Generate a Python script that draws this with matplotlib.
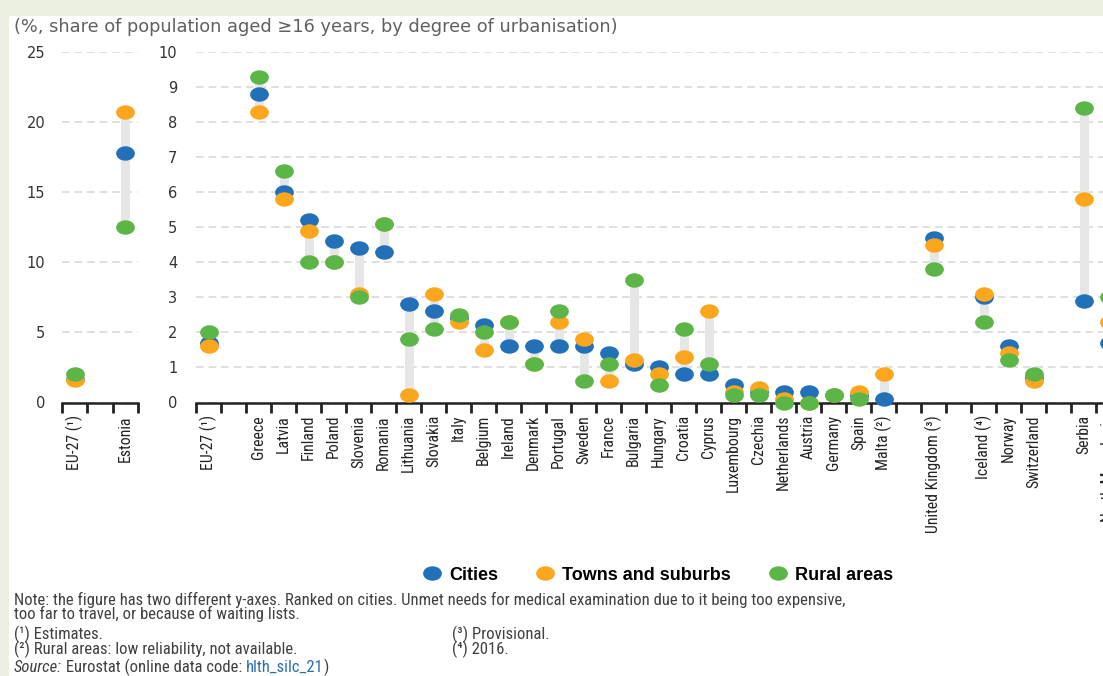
import numpy as np
import matplotlib
matplotlib.use('Agg')
import matplotlib.pyplot as plt
from matplotlib import font_manager as fm
from matplotlib.path import Path
from matplotlib.transforms import Affine2D
from matplotlib.lines import Line2D
from matplotlib.patches import Rectangle

# ---- data (% of population aged >=16, unmet needs for medical examination) ----
left_labels = ['EU-27 (¹)', '', 'Estonia']
left_cities = [1.7, np.nan, 17.8]
left_towns = [1.6, np.nan, 20.7]
left_rural = [2.0, np.nan, 12.5]

right_labels = ['EU-27 (¹)', '', 'Greece', 'Latvia', 'Finland', 'Poland', 'Slovenia',
                'Romania', 'Lithuania', 'Slovakia', 'Italy', 'Belgium', 'Ireland',
                'Denmark', 'Portugal', 'Sweden', 'France', 'Bulgaria', 'Hungary',
                'Croatia', 'Cyprus', 'Luxembourg', 'Czechia', 'Netherlands', 'Austria',
                'Germany', 'Spain', 'Malta (²)', '', 'United Kingdom (³)', '',
                'Iceland (⁴)', 'Norway', 'Switzerland', '', 'Serbia', 'North Macedonia']
right_cities = [1.7, np.nan, 8.8, 6.0, 5.2, 4.6, 4.4, 4.3, 2.8, 2.6, 2.4, 2.2, 1.6,
                1.6, 1.6, 1.6, 1.4, 1.1, 1.0, 0.8, 0.8, 0.5, 0.3, 0.3, 0.3,
                0.2, 0.2, 0.1, np.nan, 4.7, np.nan, 3.0, 1.6, 0.7, np.nan, 2.9, 1.7]
right_towns = [1.6, np.nan, 8.3, 5.8, 4.9, 4.0, 3.1, 5.1, 0.2, 3.1, 2.3, 1.5, 2.3,
               1.1, 2.3, 1.8, 0.6, 1.2, 0.8, 1.3, 2.6, 0.3, 0.4, 0.1, 0.0,
               0.2, 0.3, 0.8, np.nan, 4.5, np.nan, 3.1, 1.4, 0.6, np.nan, 5.8, 2.3]
right_rural = [2.0, np.nan, 9.3, 6.6, 4.0, 4.0, 3.0, 5.1, 1.8, 2.1, 2.5, 2.0, 2.3,
               1.1, 2.6, 0.6, 1.1, 3.5, 0.5, 2.1, 1.1, 0.2, 0.2, 0.0, 0.0,
               0.2, 0.1, np.nan, np.nan, 3.8, np.nan, 2.3, 1.2, 0.8, np.nan, 8.4, 3.0]

series_names = ['Cities', 'Towns and suburbs', 'Rural areas']

title = '(%, share of population aged ≥16 years, by degree of urbanisation)'
note1 = ('Note: the figure has two different y-axes. Ranked on cities. Unmet needs for '
         'medical examination due to it being too expensive,')
note2 = 'too far to travel, or because of waiting lists.'
foot1 = '(¹) Estimates.'
foot2 = '(²) Rural areas: low reliability, not available.'
foot3 = '(³) Provisional.'
foot4 = '(⁴) 2016.'

# ---- fonts: look for a condensed sans for the labels and notes ----
installed = {f.name for f in fm.fontManager.ttflist}
narrow_name = None
for cand in ['Liberation Sans Narrow', 'Roboto Condensed', 'Open Sans Condensed',
             'Noto Sans Condensed', 'DejaVu Sans Condensed', 'Noto Sans Display Condensed']:
    if cand in installed:
        narrow_name = cand
        break
if narrow_name is None:
    for f in fm.fontManager.ttflist:
        if ('Condensed' in f.name or 'Narrow' in f.name) and 'Sans' in f.name:
            narrow_name = f.name
            break

if narrow_name is not None:
    narrow = [narrow_name, 'DejaVu Sans']
    lab_size, note_size = 11.3, 12
else:
    narrow = ['Liberation Sans', 'DejaVu Sans']
    lab_size, note_size = 10.5, 10.5
wide = ['DejaVu Sans']

# ---- style ----
COLORS = ['#2271b8', '#fba61c', '#5cb547']
BAR = '#e6e6e6'
GRID = '#d6d6d6'
W, H = 1103, 676

# slightly flattened dots like the original
ellipse = Path.unit_circle().transformed(Affine2D().scale(1, 0.77))
MS = 13.5

fig = plt.figure(figsize=(W / 100, H / 100), dpi=100)
fig.patch.set_facecolor('#ebf0e1')
fig.add_artist(Rectangle((9 / W, 0), 1, 1 - 16 / H, transform=fig.transFigure,
                         facecolor='white', edgecolor='none', zorder=-5))


def draw_panel(ax, labels, cities, towns, rural, ymax, step, nslots, ypad):
    x = np.arange(len(labels))
    vals = np.array([cities, towns, rural], dtype=float)
    ok = ~np.all(np.isnan(vals), axis=0)
    lo = np.nanmin(vals[:, ok], axis=0)
    hi = np.nanmax(vals[:, ok], axis=0)
    ax.vlines(x[ok], lo, hi, color=BAR, lw=6.5, zorder=2)
    for v, col in zip([cities, towns, rural], COLORS):
        ax.plot(x, v, ls='none', marker=ellipse, ms=MS, color=col, mec='none',
                zorder=3, clip_on=False)

    ax.set_ylim(0, ymax)
    ax.set_yticks(np.arange(0, ymax + 0.01, step))
    ax.grid(axis='y', color=GRID, ls=(0, (5, 3.2)), lw=1.1)
    ax.set_axisbelow(True)

    ax.set_xlim(-0.5, nslots - 0.5)
    ax.set_xticks(x)
    ax.set_xticklabels(labels, rotation=90, va='top', ha='center',
                       family=narrow, fontsize=lab_size, color='#222222')
    ax.set_xticks(np.arange(-0.5, nslots), minor=True)
    ax.tick_params(axis='x', which='major', length=0, pad=9)
    ax.tick_params(axis='x', which='minor', length=7.2, width=2, color='#222222')
    ax.tick_params(axis='y', length=0, pad=ypad, labelsize=10.5, labelcolor='#333333')
    for lab in ax.get_yticklabels():
        lab.set_family(wide)
    for s in ['left', 'right', 'top']:
        ax.spines[s].set_visible(False)
    ax.spines['bottom'].set_linewidth(1.8)
    ax.spines['bottom'].set_color('#222222')


y0 = 402.5
y1 = 52.2
ax_l = fig.add_axes([62 / W, 1 - y0 / H, 76 / W, (y0 - y1) / H])
ax_r = fig.add_axes([196 / W, 1 - y0 / H, 38 * 25 / W, (y0 - y1) / H])
ax_l.patch.set_alpha(0)
ax_r.patch.set_alpha(0)

draw_panel(ax_l, left_labels, left_cities, left_towns, left_rural, 25, 5, 3, 12)
draw_panel(ax_r, right_labels, right_cities, right_towns, right_rural, 10, 1, 38, 13.5)

fig.text(14 / W, 1 - 27 / H, title, va='center', ha='left', family=wide,
         fontsize=12.8, color='#606060')

handles = [Line2D([], [], ls='none', marker=ellipse, ms=MS, color=c, mec='none')
           for c in COLORS]
fig.legend(handles, series_names, ncol=3, loc='center',
           bbox_to_anchor=(658 / W, 1 - 575 / H), frameon=False,
           prop=dict(family=['Liberation Sans', 'DejaVu Sans'], weight='bold', size=13),
           handlelength=1.0, handletextpad=0.45, columnspacing=2.1)

note_kw = dict(va='center', ha='left', family=narrow, fontsize=note_size, color='#404040')
fig.text(14 / W, 1 - 600 / H, note1, **note_kw)
fig.text(14 / W, 1 - 614 / H, note2, **note_kw)
fig.text(14 / W, 1 - 634 / H, foot1, **note_kw)
fig.text(14 / W, 1 - 649 / H, foot2, **note_kw)
fig.text(452 / W, 1 - 634 / H, foot3, **note_kw)
fig.text(452 / W, 1 - 649 / H, foot4, **note_kw)

# source line: italic label, plain text, blue data code
renderer = fig.canvas.get_renderer()
xpos = 14 / W
for s, extra in [('Source:', dict(style='italic')),
                 (' Eurostat (online data code: ', {}),
                 ('hlth_silc_21', dict(color='#2a6fb5')),
                 (')', {})]:
    kw = dict(note_kw)
    kw.update(extra)
    t = fig.text(xpos, 1 - 667 / H, s, **kw)
    xpos = t.get_window_extent(renderer).x1 / fig.bbox.width

fig.savefig('out.png', dpi=100, facecolor=fig.get_facecolor())
